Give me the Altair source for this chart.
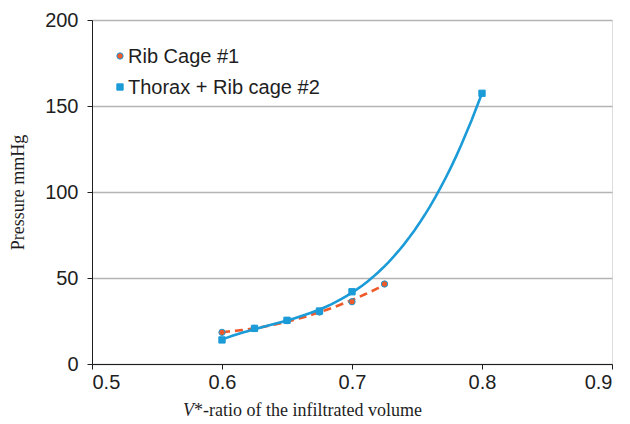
import altair as alt
import pandas as pd

series_names = ["Rib Cage #1", "Thorax + Rib cage #2"]
rib_x = [0.6, 0.625, 0.65, 0.675, 0.7, 0.725]
rib_y = [18.4, 20.7, 25.2, 30.2, 36.2, 46.5]
thorax_x = [0.6, 0.625, 0.65, 0.675, 0.7, 0.8]
thorax_y = [14.0, 20.7, 25.4, 30.8, 42.0, 157.4]
x_ticks = [0.5, 0.6, 0.7, 0.8, 0.9]
y_ticks = [0, 50, 100, 150, 200]

orange = "#EE5A2A"
blue = "#1B9BD7"
ink = "#1e1e1e"

df = pd.DataFrame(
    {"x": rib_x + thorax_x,
     "y": rib_y + thorax_y,
     "series": [series_names[0]] * len(rib_x) + [series_names[1]] * len(thorax_x)}
)
legend_df = pd.DataFrame({"series": series_names})

xs = alt.X("x:Q", scale=alt.Scale(domain=[0.5, 0.9], nice=False, zero=False),
           axis=alt.Axis(values=x_ticks, format=".1f", title=None, grid=False,
                         domainColor=ink, tickColor=ink, tickSize=5,
                         labelFont="Liberation Sans", labelFontSize=20, labelColor=ink,
                         labelPadding=3))
ys = alt.Y("y:Q", scale=alt.Scale(domain=[0, 200], nice=False),
           axis=alt.Axis(values=y_ticks, title="Pressure mmHg", grid=True,
                         gridColor="#b4b4b4", gridWidth=1.3,
                         domainColor=ink, tickColor=ink, tickSize=5,
                         labelFont="Liberation Sans", labelFontSize=20, labelColor=ink,
                         labelPadding=9,
                         titleFont="Liberation Serif", titleFontSize=18, titleFontWeight="normal",
                         titleColor=ink, titleX=-74, titleY=172, titleAngle=-90,
                         titleBaseline="middle", titleAlign="center"))

color_scale = alt.Scale(domain=series_names, range=[orange, blue])
shape_scale = alt.Scale(domain=series_names, range=["circle", "square"])

rib_line = alt.Chart(df).transform_filter(
    alt.datum.series == series_names[0]
).transform_regression("x", "y", method="poly", order=2).mark_line(
    strokeWidth=2.6, color=orange, strokeDash=[8, 5]
).encode(x=xs, y=ys)

thorax_line = alt.Chart(df).transform_filter(
    alt.datum.series == series_names[1]
).transform_regression("x", "y", method="poly", order=3).mark_line(
    strokeWidth=2.6, color=blue
).encode(x=xs, y=ys)

points = alt.Chart(df).mark_point(filled=True, stroke=blue, strokeWidth=1, opacity=1).encode(
    x=xs, y=ys,
    fill=alt.Fill("series:N", scale=color_scale, legend=None),
    shape=alt.Shape("series:N", scale=shape_scale, legend=None),
    size=alt.value(40),
)

# manual legend (top-left inside the plot)
legend_layers = []
for i, name in enumerate(series_names):
    base = alt.Chart(legend_df).transform_filter(alt.datum.series == name)
    legend_layers.append(
        base.mark_point(filled=True, stroke=blue, strokeWidth=1, opacity=1, size=40).encode(
            x=alt.value(28), y=alt.value(36 + 31 * i),
            fill=alt.Fill("series:N", scale=color_scale, legend=None),
            shape=alt.Shape("series:N", scale=shape_scale, legend=None),
        )
    )
    legend_layers.append(
        base.mark_text(font="Liberation Sans", fontSize=20, align="left", baseline="middle", color=ink).encode(
            x=alt.value(36), y=alt.value(37 + 31 * i), text="series:N",
        )
    )

title_v = alt.Chart(pd.DataFrame({"t": ["V"]})).mark_text(
    font="Liberation Serif", fontSize=18, fontStyle="italic", align="left", baseline="alphabetic", color=ink
).encode(text="t:N", x=alt.value(91), y=alt.value(396))
title_rest = alt.Chart(pd.DataFrame({"t": ["*-ratio of the infiltrated volume"]})).mark_text(
    font="Liberation Serif", fontSize=18, align="left", baseline="alphabetic", color=ink
).encode(text="t:N", x=alt.value(102), y=alt.value(396))

chart = alt.layer(rib_line, thorax_line, points, *legend_layers, title_v, title_rest).properties(
    width=520, height=344,
    autosize=alt.AutoSizeParams(type="none"),
    padding={"left": 92, "top": 20, "right": 18, "bottom": 60},
).configure_view(stroke=None).configure(background="white")

chart.save("out.html", embed_options={"renderer": "svg", "actions": False})
